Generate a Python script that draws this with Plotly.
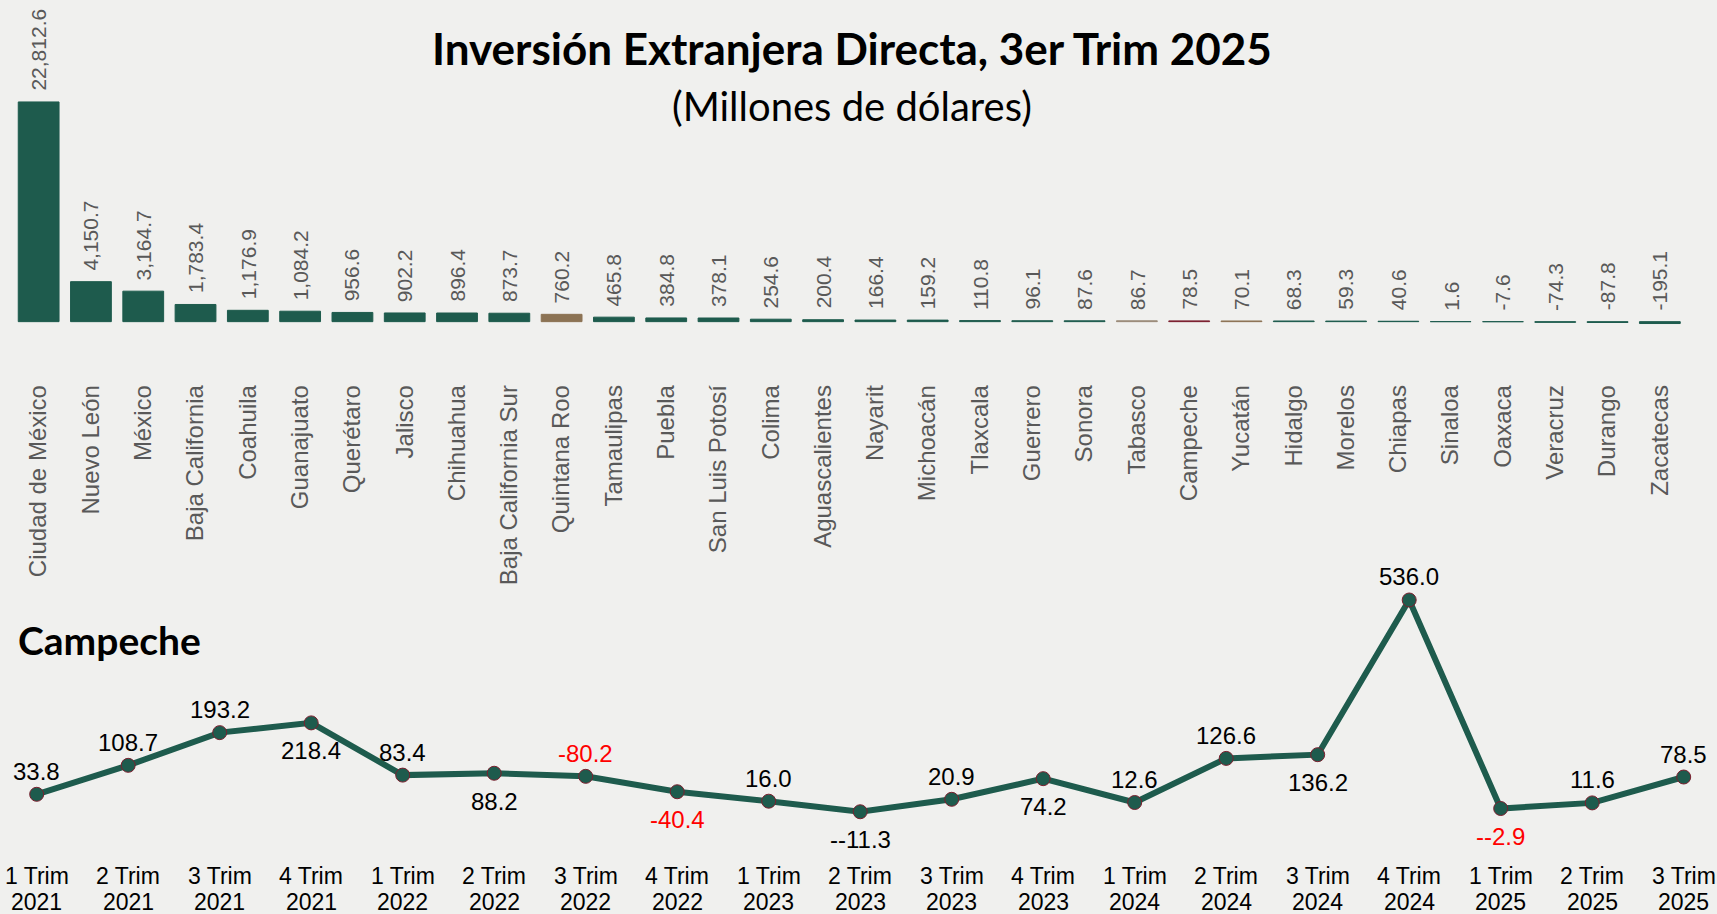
import plotly.graph_objects as go

# Barras por entidad, 3er trimestre 2025 (millones de dólares)
estados = [
    "Ciudad de México", "Nuevo León", "México", "Baja California", "Coahuila",
    "Guanajuato", "Querétaro", "Jalisco", "Chihuahua", "Baja California Sur",
    "Quintana Roo", "Tamaulipas", "Puebla", "San Luis Potosí", "Colima",
    "Aguascalientes", "Nayarit", "Michoacán", "Tlaxcala", "Guerrero", "Sonora",
    "Tabasco", "Campeche", "Yucatán", "Hidalgo", "Morelos", "Chiapas", "Sinaloa",
    "Oaxaca", "Veracruz", "Durango", "Zacatecas",
]
ied_estados = [
    22812.6, 4150.7, 3164.7, 1783.4, 1176.9, 1084.2, 956.6, 902.2, 896.4, 873.7,
    760.2, 465.8, 384.8, 378.1, 254.6, 200.4, 166.4, 159.2, 110.8, 96.1, 87.6,
    86.7, 78.5, 70.1, 68.3, 59.3, 40.6, 1.6, -7.6, -74.3, -87.8, -195.1,
]

# Serie trimestral de Campeche
trims = ["1 Trim", "2 Trim", "3 Trim", "4 Trim"] * 4 + ["1 Trim", "2 Trim", "3 Trim"]
anios = ["2021"] * 4 + ["2022"] * 4 + ["2023"] * 4 + ["2024"] * 4 + ["2025"] * 3
campeche = [
    33.8, 108.7, 193.2, 218.4, 83.4, 88.2, 80.2, 40.4, 16.0, -11.3,
    20.9, 74.2, 12.6, 126.6, 136.2, 536.0, -2.9, 11.6, 78.5,
]
etiquetas = [
    "33.8", "108.7", "193.2", "218.4", "83.4", "88.2", "-80.2", "-40.4", "16.0",
    "--11.3", "20.9", "74.2", "12.6", "126.6", "136.2", "536.0", "--2.9", "11.6",
    "78.5",
]
# etiqueta arriba (True) o abajo (False) del punto
arriba = [
    True, True, True, False, True, False, True, False, True, False,
    True, False, True, True, False, True, False, True, True,
]

VERDE = "#1e5b4d"
colores_especiales = {
    "Quintana Roo": "#8c7354",
    "Tabasco": "#9a8a78",
    "Campeche": "#7b1f2e",
    "Yucatán": "#8c7354",
}
colores = [colores_especiales.get(e, VERDE) for e in estados]
color_etiqueta = ["red" if t.startswith("-") and t != "--11.3" else "black" for t in etiquetas]

FONDO = "#f0f0ee"
GRIS = "#595959"
ARIAL = "Liberation Sans, Arial, sans-serif"
W, H = 1717, 914

fig = go.Figure()

# --- Barras ---
fig.add_trace(go.Bar(
    x=estados, y=ied_estados,
    marker=dict(color=colores, line=dict(color=colores, width=1)),
    xaxis="x", yaxis="y",
    hoverinfo="x+y", showlegend=False,
))

for e, v in zip(estados, ied_estados):
    fig.add_annotation(
        x=e, y=max(v, 0), xref="x", yref="y",
        text=f"{v:,.1f}", textangle=-90,
        showarrow=False, xanchor="center", yanchor="bottom", yshift=9,
        font=dict(family=ARIAL, size=21, color=GRIS),
    )

# --- Línea Campeche ---
xs = list(range(len(campeche)))
fig.add_trace(go.Scatter(
    x=xs, y=campeche,
    mode="lines+markers",
    line=dict(color=VERDE, width=6),
    marker=dict(color=VERDE, size=14, line=dict(color="#7b1f2e", width=1)),
    xaxis="x2", yaxis="y2",
    cliponaxis=False, showlegend=False,
))

for i, (v, t, up, c) in enumerate(zip(campeche, etiquetas, arriba, color_etiqueta)):
    fig.add_annotation(
        x=i, y=v, xref="x2", yref="y2",
        text=t, showarrow=False, xanchor="center", yanchor="middle",
        yshift=23 if up else -28,
        font=dict(family=ARIAL, size=24, color=c),
    )

# Etiquetas del eje trimestral en dos renglones
for i, (t, a) in enumerate(zip(trims, anios)):
    for txt, ypx in ((t, 876), (a, 901.5)):
        fig.add_annotation(
            x=i, y=1 - ypx / H, xref="x2", yref="paper",
            text=txt, showarrow=False, xanchor="center", yanchor="middle",
            font=dict(family=ARIAL, size=23, color="black"),
        )

fig.add_annotation(
    text="<b>Inversión Extranjera Directa, 3er Trim 2025</b>",
    xref="paper", yref="paper", x=0.496, y=1 - 48 / H,
    xanchor="center", yanchor="middle", showarrow=False,
    font=dict(family="Lato, sans-serif", size=44, color="black"),
)
fig.add_annotation(
    text="(Millones de dólares)",
    xref="paper", yref="paper", x=0.496, y=1 - 106 / H,
    xanchor="center", yanchor="middle", showarrow=False,
    font=dict(family="Lato, sans-serif", size=40, color="black"),
)
fig.add_annotation(
    text="<b>Campeche</b>",
    xref="paper", yref="paper", x=16 / W, y=1 - 640 / H,
    xanchor="left", yanchor="middle", showarrow=False,
    font=dict(family="Lato, sans-serif", size=39, color="black"),
)

fig.update_layout(
    width=W, height=H,
    margin=dict(l=0, r=0, t=0, b=0),
    paper_bgcolor=FONDO, plot_bgcolor="rgba(0,0,0,0)",
    bargap=0.22,
    xaxis=dict(
        domain=[12.5 / W, 1686 / W], range=[-0.5, 31.5],
        tickangle=-90, showgrid=False, zeroline=False, showline=False,
        ticks="outside", ticklen=49, tickcolor="rgba(0,0,0,0)",
        tickfont=dict(family=ARIAL, size=24, color=GRIS),
    ),
    yaxis=dict(
        domain=[1 - 325.5 / H, 1 - 85.7 / H], range=[-400, 24500],
        visible=False, showgrid=False, zeroline=False,
    ),
    xaxis2=dict(
        domain=[0, 1], range=[-0.401, 18.364], anchor="y2",
        showticklabels=False, showgrid=False, zeroline=False, showline=False,
    ),
    yaxis2=dict(
        domain=[1 - 830.6 / H, 1 - 590.7 / H], range=[-60, 560],
        visible=False, showgrid=False, zeroline=False,
    ),
)

fig.write_html(
    "out.html",
    config={"displayModeBar": False},
    post_script="document.body.style.margin='0';document.body.style.background='#f0f0ee';",
)
